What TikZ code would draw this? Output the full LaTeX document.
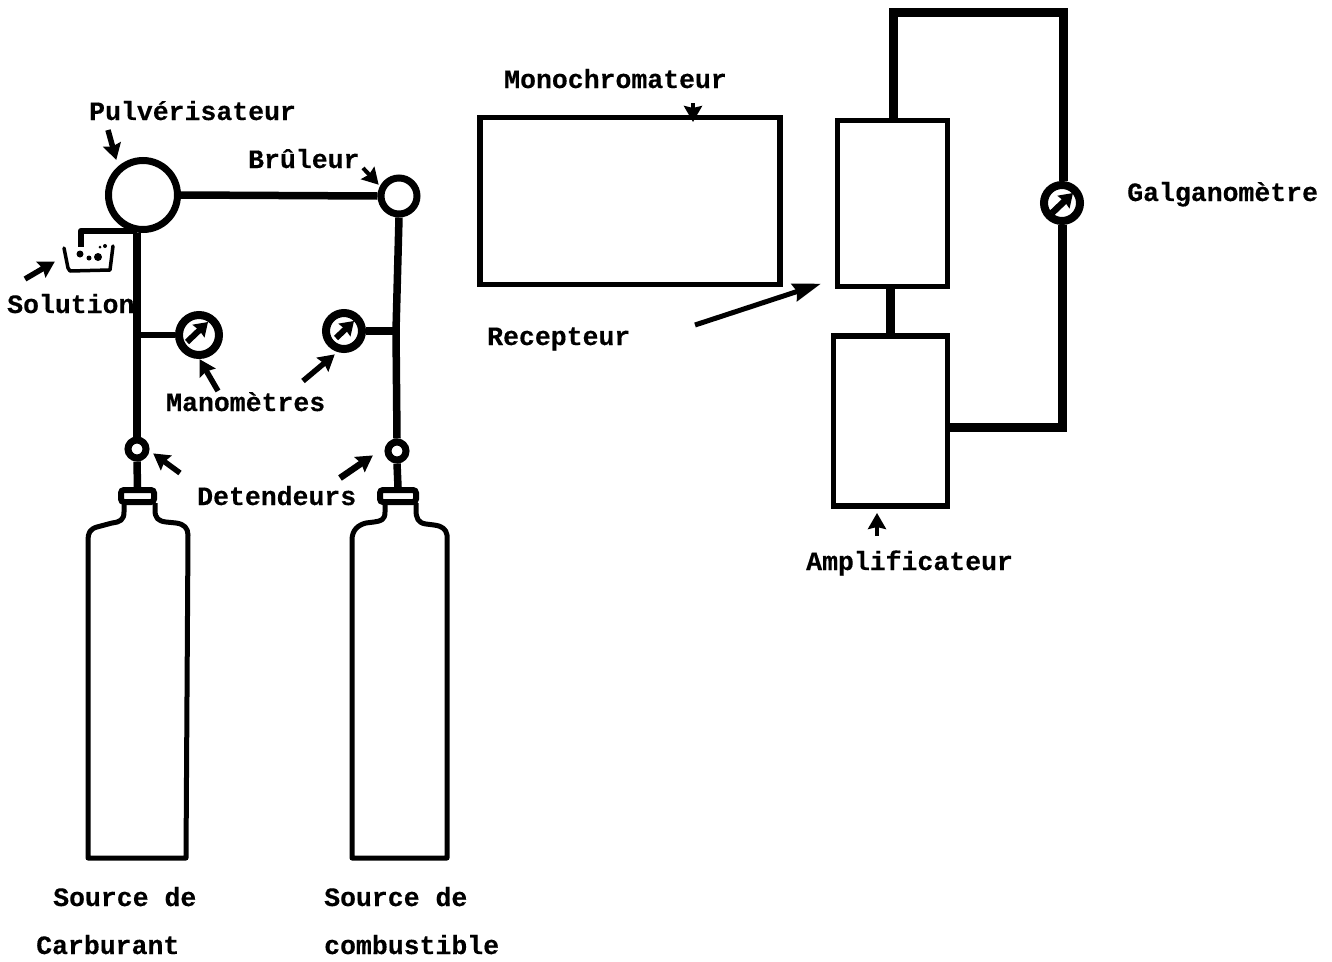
\documentclass[tikz,border=0pt]{standalone}
\usepackage{fontspec}
\setmainfont{Liberation Mono}[BoldFont={Liberation Mono Bold},BoldFeatures={FakeBold=0.3}]
\usetikzlibrary{arrows.meta}
\tikzset{
  lbl/.style={anchor=base west,inner sep=0pt,font=\fontsize{26.5}{30}\selectfont\bfseries},
  pipe/.style={line width=7.5pt,line join=round},
  wire/.style={line width=9pt,line join=miter},
  ring/.style={circle,draw,line width=7pt,inner sep=0pt,fill=white},
  gauge/.style={circle,draw,line width=8pt,inner sep=0pt,fill=white},
  boxb/.style={draw,line width=5.5pt,inner sep=0pt,fill=white},
  outline/.style={line width=5pt,line join=round,line cap=round},
  pointer/.style={line width=5.5pt,-{Stealth[length=16pt,width=18pt,inset=2pt]},shorten >=-1pt},
  needle/.style={line width=6pt,-{Stealth[length=13pt,width=17pt,inset=1pt]}},
  capb/.style={draw,line width=6pt,rounded corners=3pt,inner sep=0pt,fill=white}
}
\begin{document}
\begin{tikzpicture}[x=1pt,y=-1pt]
\useasboundingbox (0,0) rectangle (1332,961);
% left apparatus nodes
\node[ring,minimum size=69pt] (pulv) at (143,195) {};
\node[ring,minimum size=36pt] (brul) at (399,196) {};
\node[gauge,minimum size=40pt] (gl) at (199,335) {};
\node[gauge,minimum size=36pt] (gr) at (344,331) {};
\node[ring,minimum size=18pt] (dl) at (137,449) {};
\node[ring,minimum size=18pt] (dr) at (397,451) {};
\node[capb,minimum width=33pt,minimum height=12pt] (capl) at (137.5,496) {};
\node[capb,minimum width=36pt,minimum height=12pt] (capr) at (398,496) {};
\coordinate (jl) at (137,335);
\coordinate (jr) at (396,331);
\coordinate (solA) at (137,231);
\coordinate (solB) at (81,231);
\coordinate (solC) at (81,247);
% pipes
\draw[pipe] (pulv.east |- 0,195) -- (brul.west);
\draw[pipe] (solA |- pulv.south) -- (dl.north);
\draw[pipe] (brul.south) -- (jr) -- (dr.north);
\draw[pipe,line width=6pt] (jl) -- (gl.west);
\draw[pipe] (jr) -- (gr.east);
\draw[pipe] (dl.south) -- (capl.north);
\draw[pipe] (dr.south) -- (capr.north);
\draw[pipe,line width=6.5pt] (solA) -- (solB) -- (solC);
% beaker
\draw[outline,line width=3.5pt] (64,248) -- (68,268) -- (70,271) -- (110,270) -- (113,246);
\fill (80,254) circle (3.5pt) (89,258) circle (2.5pt) (98,257) circle (4pt) (105,246) circle (2pt) (100,247) circle (1.5pt);
% gauge needles
\coordinate (g1a) at (187,342); \coordinate (g1b) at (208,322);
\draw[needle] (g1a) -- (g1b);
\coordinate (g2a) at (336,338); \coordinate (g2b) at (354,321);
\draw[needle] (g2a) -- (g2b);
% bottles
\draw[outline,line cap=butt] (124,503) -- (124,512) .. controls (124,520) and (120,522) .. (112,523) -- (97,527) .. controls (90,529) and (88,533) .. (88,540) -- (88,858) -- (186,858) -- (188,535) .. controls (188,528) and (184,524) .. (176,523) -- (166,522) .. controls (158,521) and (155,518) .. (155,510) -- (155,503);
\draw[outline,line cap=butt] (385,503) -- (385,512) .. controls (385,520) and (381,521) .. (374,522) -- (366,523) .. controls (358,525) and (352,530) .. (352,540) -- (352,858) -- (447,858) -- (447,535) .. controls (446,529) and (442,526) .. (434,525) -- (426,524) .. controls (418,523) and (416,518) .. (416,510) -- (416,503);
% right side boxes
\node[boxb,minimum width=300pt,minimum height=167pt] (mono) at (630,201) {};
\node[boxb,minimum width=110pt,minimum height=166pt] (rec) at (892.5,203.5) {};
\node[boxb,minimum width=114pt,minimum height=170pt] (amp) at (890.5,421) {};
\node[gauge,minimum size=36pt] (gal) at (1062,203) {};
\coordinate (t1) at (893,12);
\coordinate (t2) at (1063,12);
\coordinate (b2) at (1062,427);
\draw[wire] (rec.north -| t1) -- (t1) -- (t2) -- (gal.north -| t2);
\draw[wire] (gal.south) -- (b2) -- (amp.east |- b2);
\draw[line width=9pt] (rec.south -| 890,0) -- (amp.north -| 890,0);
\coordinate (g3a) at (1052,213); \coordinate (g3b) at (1073,193);
\draw[needle,line width=6.5pt] (g3a) -- (g3b);
% labels
\node[lbl] (l1) at (89,120) {Pulvérisateur};
\node[lbl] (l2) at (248,168) {Brûleur};
\node[lbl] (l3) at (7,313) {Solution};
\node[lbl] (l4) at (166,411) {Manomètres};
\node[lbl] (l5) at (197,505) {Detendeurs};
\node[lbl] (l6) at (53,906) {Source de};
\node[lbl] (l7) at (36,954) {Carburant};
\node[lbl] (l8) at (324,906) {Source de};
\node[lbl] (l9) at (324,954) {combustible};
\node[lbl] (l10) at (504,88) {Monochromateur};
\node[lbl] (l11) at (487,345) {Recepteur};
\node[lbl] (l12) at (806,570) {Amplificateur};
\node[lbl] (l13) at (1127,201) {Galganomètre};
% pointer arrows
\coordinate (a1) at (108,130); \coordinate (a1e) at (116,159);
\draw[pointer] (a1) -- (a1e);
\coordinate (a2) at (25,279); \coordinate (a2e) at (54,262);
\draw[pointer] (a2) -- (a2e);
\coordinate (a3) at (363,168); \coordinate (a3e) at (378,184);
\draw[pointer,line width=4pt] (a3) -- (a3e);
\coordinate (a4) at (218,391); \coordinate (a4e) at (200,360);
\draw[pointer] (a4) -- (a4e);
\coordinate (a5) at (303,381); \coordinate (a5e) at (334,355);
\draw[pointer] (a5) -- (a5e);
\coordinate (a6) at (180,473); \coordinate (a6e) at (154,454);
\draw[pointer] (a6) -- (a6e);
\coordinate (a7) at (340,478); \coordinate (a7e) at (372,456);
\draw[pointer,line width=6.5pt] (a7) -- (a7e);
\coordinate (a8) at (693,103); \coordinate (a8e) at (693,121);
\draw[pointer,line width=4pt] (a8) -- (a8e);
\coordinate (a9) at (695,325); \coordinate (a9e) at (820,284);
\draw[pointer,line width=5pt,-{Stealth[length=28pt,width=18pt,inset=3pt]}] (a9) -- (a9e);
\coordinate (a10) at (877,536); \coordinate (a10e) at (877,514);
\draw[pointer,line width=4pt] (a10) -- (a10e);
\end{tikzpicture}
\end{document}
